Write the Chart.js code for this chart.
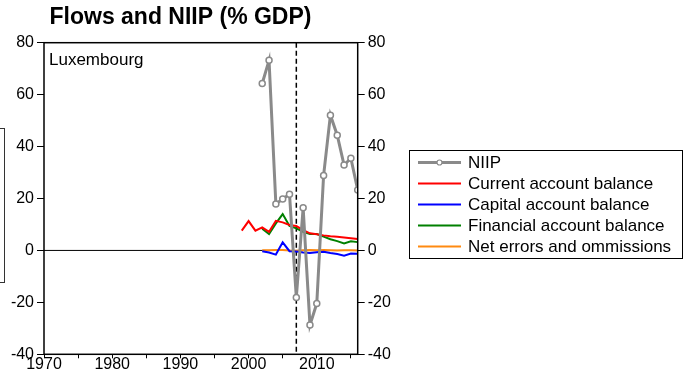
<!DOCTYPE html>
<html>
<head>
<meta charset="utf-8">
<script src="https://cdn.jsdelivr.net/npm/chart.js@4.4.1/dist/chart.umd.min.js"></script>
<style>
  html, body { margin: 0; padding: 0; background: #fff; }
  #wrap { position: relative; width: 691px; height: 383px; overflow: hidden; }
  #side { position: absolute; left: -100px; top: 128px; width: 103px; height: 153px; border: 1px solid #333; }
  canvas { position: absolute; left: 0; top: 0; }
</style>
</head>
<body>
<div id="wrap">
  <div id="side"></div>
  <canvas id="chart" width="691" height="383"></canvas>
</div>
<script>
// Luxembourg, flows and NIIP in % of GDP
const years = [1999, 2000, 2001, 2002, 2003, 2004, 2005, 2006, 2007, 2008, 2009, 2010, 2011, 2012, 2013, 2014, 2015, 2016];
const niip = [null, null, null, 64.3, 73.2, 17.9, 19.8, 21.6, -18.1, 16.4, -28.7, -20.4, 28.9, 52.1, 44.4, 32.9, 35.5, 23.3];
const currentAccount = [7.6, 11.3, 7.6, 8.9, 7.2, 11.4, 10.8, 9.8, 9.4, 7.8, 6.6, 6.2, 5.8, 5.5, 5.3, 5.0, 4.7, 4.4];
const capitalAccount = [null, null, null, -0.3, -0.8, -1.6, 3.1, -0.3, -0.4, -0.8, -1.0, -0.7, -0.5, -1.0, -1.4, -2.0, -1.2, -1.3];
const financialAccount = [null, null, null, 8.4, 6.3, 10.4, 14.0, 9.4, 8.5, 7.2, 6.3, 6.3, 5.3, 4.3, 3.6, 2.7, 3.5, 3.2];
const netErrors = [null, null, null, 0.1, 0.1, 0.2, 0.2, 0.0, -0.1, 0.1, 0.2, 0.1, 0.2, 0.1, 0.0, 0.1, 0.1, 0.0];

const xTicks = [1970, 1975, 1980, 1985, 1990, 1995, 2000, 2005, 2010, 2015];
const yTicks = [-40, -20, 0, 20, 40, 60, 80];
const breakYear = 2007;

const FONT = "'Liberation Sans', Arial, sans-serif";

function pts(vals) {
  return years.map((y, i) => ({ x: y, y: vals[i] }));
}

const decor = {
  id: "decor",
  beforeDatasetsDraw(chart) {
    const { ctx, chartArea: a, scales } = chart;
    ctx.save();
    // zero line
    const y0 = scales.y.getPixelForValue(0);
    ctx.strokeStyle = "#000";
    ctx.lineWidth = 1;
    ctx.beginPath();
    ctx.moveTo(a.left, y0);
    ctx.lineTo(a.right, y0);
    ctx.stroke();
    // break marker
    const xb = scales.x.getPixelForValue(breakYear);
    ctx.setLineDash([5, 3]);
    ctx.lineWidth = 1.5;
    ctx.beginPath();
    ctx.moveTo(xb, a.top);
    ctx.lineTo(xb, a.bottom);
    ctx.stroke();
    ctx.restore();
  },
  afterDraw(chart) {
    const { ctx, chartArea: a } = chart;
    ctx.save();
    ctx.strokeStyle = "#000";
    ctx.lineWidth = 1.5;
    ctx.strokeRect(a.left, a.top, a.right - a.left, a.bottom - a.top);

    ctx.fillStyle = "#000";
    ctx.textBaseline = "middle";
    ctx.textAlign = "center";
    ctx.font = "bold 23px " + FONT;
    ctx.fillText("Flows and NIIP (% GDP)", 180.5, 17.5);

    ctx.textAlign = "left";
    ctx.font = "17px " + FONT;
    ctx.fillText("Luxembourg", a.left + 5, 60);

    // legend
    ctx.lineWidth = 1;
    ctx.strokeStyle = "#000";
    ctx.strokeRect(409.5, 150.5, 273, 108);
    ctx.font = "17px " + FONT;
    chart.data.datasets.forEach((ds, i) => {
      const y = 162.5 + i * 21;
      ctx.strokeStyle = ds.borderColor;
      ctx.lineWidth = ds.borderWidth;
      ctx.beginPath();
      ctx.moveTo(418, y);
      ctx.lineTo(461, y);
      ctx.stroke();
      if (ds.pointRadius) {
        ctx.beginPath();
        ctx.arc(439.5, y, 2.5, 0, Math.PI * 2);
        ctx.fillStyle = "#fff";
        ctx.fill();
        ctx.lineWidth = 1.2;
        ctx.stroke();
      }
      ctx.fillStyle = "#000";
      ctx.fillText(ds.label, 468, y + 1);
    });
    ctx.restore();
  },
};

const tickFont = { family: FONT, size: 16 };

function yAxis(position, width) {
  return {
    type: "linear",
    position,
    min: -40,
    max: 80,
    afterBuildTicks: (s) => { s.ticks = yTicks.map((v) => ({ value: v })); },
    afterFit: (s) => { s.width = width; },
    ticks: { font: tickFont, color: "#000", padding: 3 },
    grid: { drawOnChartArea: false, drawTicks: true, tickLength: 7, color: "#000", lineWidth: 1 },
    border: { display: false },
  };
}

new Chart(document.getElementById("chart"), {
  type: "line",
  data: {
    datasets: [
      {
        label: "NIIP",
        data: pts(niip),
        borderColor: "#8a8a8a",
        borderWidth: 3,
        pointRadius: 3,
        pointBorderWidth: 1.5,
        pointBackgroundColor: "#fff",
        pointBorderColor: "#8a8a8a",
        yAxisID: "y",
      },
      { label: "Current account balance", data: pts(currentAccount), borderColor: "#ff0000", borderWidth: 2, pointRadius: 0, yAxisID: "y" },
      { label: "Capital account balance", data: pts(capitalAccount), borderColor: "#0000ff", borderWidth: 2, pointRadius: 0, yAxisID: "y" },
      { label: "Financial account balance", data: pts(financialAccount), borderColor: "#008000", borderWidth: 2, pointRadius: 0, yAxisID: "y" },
      { label: "Net errors and ommissions", data: pts(netErrors), borderColor: "#ff8a10", borderWidth: 2, pointRadius: 0, yAxisID: "y" },
    ],
  },
  options: {
    responsive: false,
    animation: false,
    devicePixelRatio: 1,
    spanGaps: false,
    layout: { padding: { top: 42.7, left: 0, right: 0, bottom: 0 } },
    plugins: { legend: { display: false }, title: { display: false }, tooltip: { enabled: false } },
    elements: { line: { tension: 0 } },
    scales: {
      x: {
        type: "linear",
        position: "bottom",
        min: 1970,
        max: 2016,
        afterBuildTicks: (s) => { s.ticks = xTicks.map((v) => ({ value: v })); },
        afterFit: (s) => { s.height = 28.7; },
        ticks: {
          font: tickFont,
          color: "#000",
          padding: -3,
          maxRotation: 0,
          autoSkip: false,
          callback: (v) => (v % 10 === 0 ? String(v) : ""),
        },
        grid: { drawOnChartArea: false, drawTicks: true, tickLength: 4, color: "#000", lineWidth: 1 },
        border: { display: false },
      },
      y: yAxis("left", 44),
      y2: yAxis("right", 333.3),
    },
  },
  plugins: [decor],
});
</script>
</body>
</html>
